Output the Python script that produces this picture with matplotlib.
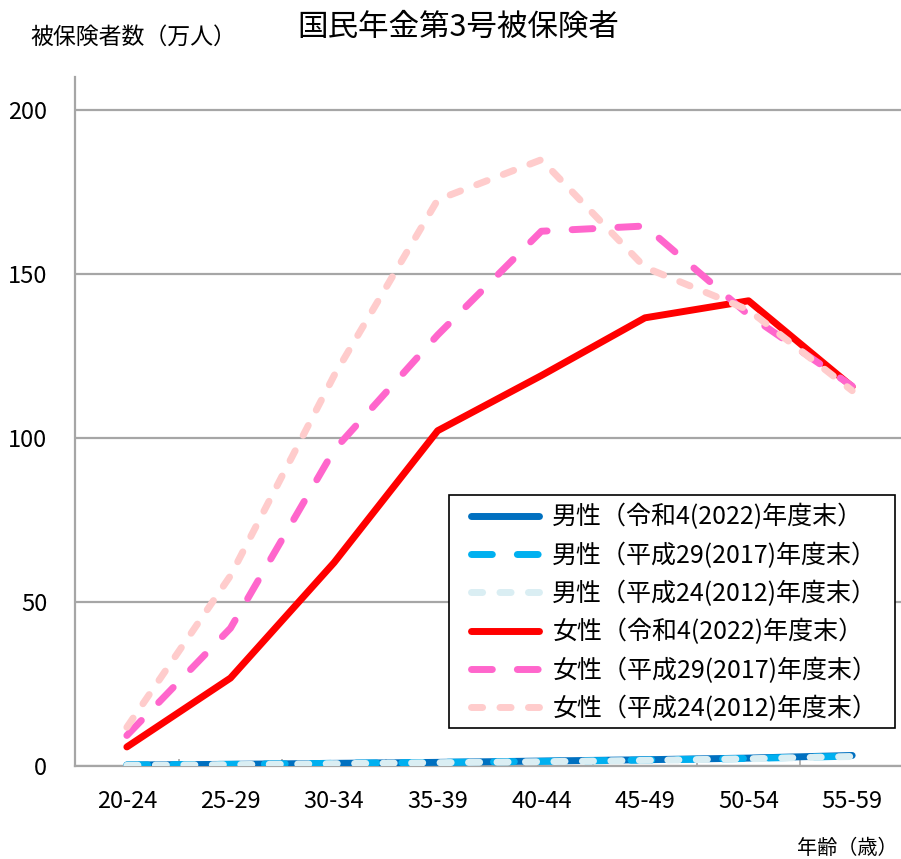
import matplotlib
matplotlib.use("Agg")
import matplotlib.pyplot as plt
from matplotlib.patches import Rectangle
from matplotlib.ticker import FixedLocator

plt.rcParams["font.family"] = ["Noto Sans CJK JP", "DejaVu Sans"]

age_groups = ["20-24", "25-29", "30-34", "35-39", "40-44", "45-49", "50-54", "55-59"]

# 万人
male_2022 = [0.3, 0.5, 0.8, 1.1, 1.5, 1.9, 2.4, 3.2]
male_2017 = [0.3, 0.5, 0.8, 1.1, 1.4, 1.8, 2.3, 3.0]
male_2012 = [0.2, 0.4, 0.7, 1.0, 1.3, 1.7, 2.2, 2.9]
female_2022 = [5.8, 26.8, 62.0, 102.2, 119.0, 136.6, 141.8, 115.6]
female_2017 = [9.3, 42.0, 96.3, 131.4, 163.0, 164.6, 137.5, 115.8]
female_2012 = [11.8, 58.0, 119.0, 172.6, 184.8, 152.0, 139.0, 114.4]

labels = [
    "男性（令和4(2022)年度末）",
    "男性（平成29(2017)年度末）",
    "男性（平成24(2012)年度末）",
    "女性（令和4(2022)年度末）",
    "女性（平成29(2017)年度末）",
    "女性（平成24(2012)年度末）",
]

W, H = 901, 859
fig = plt.figure(figsize=(W / 100, H / 100), dpi=100)
ax = fig.add_axes([0.0833, 0.1083, 0.92, 0.802])

x = list(range(len(age_groups)))
lw = 5.0
long_dash = (3.0, 3.6)
short_dash = (1.6, 2.5)

series = [
    (male_2022, "#0070C0", None),
    (male_2017, "#00B0F0", long_dash),
    (male_2012, "#DAEEF3", short_dash),
    (female_2022, "#FF0000", None),
    (female_2017, "#FF66CC", long_dash),
    (female_2012, "#FFCCCC", short_dash),
]

# later series end up on top, same as the legend order
handles = []
for vals, color, dash in series:
    (ln,) = ax.plot(x, vals, color=color, linewidth=lw, solid_capstyle="round",
                    dash_capstyle="round", zorder=3)
    if dash is not None:
        ln.set_dashes(dash)
    handles.append(ln)

ax.set_xlim(-0.5, 7.5)
ax.set_ylim(0, 210)
ax.set_yticks([0, 50, 100, 150, 200])
ax.yaxis.grid(True, color="#A6A6A6", linewidth=1.6)
ax.set_axisbelow(True)

ax.set_xticks(x)
ax.set_xticklabels(age_groups)
ax.xaxis.set_minor_locator(FixedLocator([i + 0.5 for i in range(-1, 8)]))
ax.tick_params(axis="x", which="major", length=0, pad=17, labelsize=17)
ax.tick_params(axis="x", which="minor", direction="in", length=5, color="#A6A6A6", width=1.2)
ax.tick_params(axis="y", length=0, pad=20, labelsize=17)

for side in ["top", "right"]:
    ax.spines[side].set_visible(False)
for side in ["left", "bottom"]:
    ax.spines[side].set_color("#A6A6A6")
    ax.spines[side].set_linewidth(1.6)

# legend box drawn separately so the inner padding can differ per side
box = Rectangle((449 / W, 1 - 728 / H), (895 - 449) / W, (728 - 495) / H,
                transform=fig.transFigure, facecolor="white", edgecolor="black",
                linewidth=1.2, zorder=9, clip_on=False)
ax.add_patch(box)

leg = ax.legend(handles, labels, loc="upper left", bbox_to_anchor=(471 / W, 1 - 504 / H),
                bbox_transform=fig.transFigure, fontsize=18, frameon=False,
                handlelength=2.7, handletextpad=0.55, labelspacing=0.48, borderpad=0,
                borderaxespad=0)
leg.set_zorder(10)

fig.text(458 / W, 1 - 27 / H, "国民年金第3号被保険者", ha="center", va="center", fontsize=22)
fig.text(30 / W, 1 - 37 / H, "被保険者数（万人）", ha="left", va="center", fontsize=16.5)
fig.text(898 / W, 1 - 848 / H, "年齢（歳）", ha="right", va="center", fontsize=14.5)

fig.savefig("out.png", dpi=100)
